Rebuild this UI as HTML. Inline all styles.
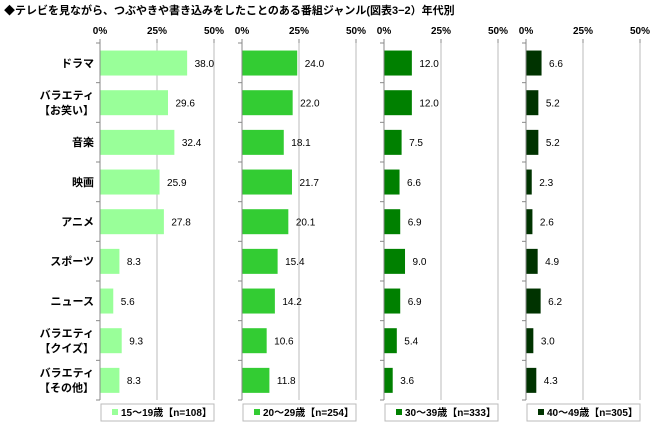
<!DOCTYPE html>
<html><head><meta charset="utf-8"><style>
body{margin:0;background:#fff;font-family:"Liberation Sans","Noto Sans CJK JP",sans-serif;}
svg text{font-family:"Liberation Sans","Noto Sans CJK JP",sans-serif;}
</style></head><body>
<svg id="c" width="659" height="431" xmlns="http://www.w3.org/2000/svg">
<text x="4" y="14" font-size="11" font-weight="bold" fill="#000">◆テレビを見ながら、つぶやきや書き込みをしたことのある番組ジャンル(図表3−2）年代別</text>
</svg>
<script>
const categories=[["ドラマ"],["バラエティ","【お笑い】"],["音楽"],["映画"],["アニメ"],["スポーツ"],["ニュース"],["バラエティ","【クイズ】"],["バラエティ","【その他】"]];
const groups=["15〜19歳【n=108】","20〜29歳【n=254】","30〜39歳【n=333】","40〜49歳【n=305】"];
const s1=[38.0,29.6,32.4,25.9,27.8,8.3,5.6,9.3,8.3];
const s2=[24.0,22.0,18.1,21.7,20.1,15.4,14.2,10.6,11.8];
const s3=[12.0,12.0,7.5,6.6,6.9,9.0,6.9,5.4,3.6];
const s4=[6.6,5.2,5.2,2.3,2.6,4.9,6.2,3.0,4.3];
const series=[s1,s2,s3,s4];
const ticks=[0,25,50];
const colors=["#99ff99","#33cc33","#008000","#003300"];
const x0s=[100,242,384,526], W=114, yTop=43, yBot=400;
const svg=document.getElementById('c');
const NS="http://www.w3.org/2000/svg";
function mk(t,a,p){const e=document.createElementNS(NS,t);for(const k in a)e.setAttribute(k,a[k]);(p||svg).appendChild(e);return e;}
const band=(yBot-yTop)/categories.length;
const yPos=i=>yTop+i*band;
categories.forEach((c,i)=>{
  const cy=yPos(i)+band/2;
  const t=mk('text',{x:94,'text-anchor':'end','font-size':11,'font-weight':'bold'});
  
  
  c.forEach((l,j)=>{const ts=mk('tspan',{x:94,y:cy+4+(j-(c.length-1)/2)*15},t);ts.textContent=l;});
});
series.forEach((vals,g)=>{
  const x0=x0s[g];const xs=v=>x0+v/50*W;
  ticks.forEach(tk=>{
    if(tk>0){const gl=mk('line',{x1:xs(tk),x2:xs(tk),y1:yTop,y2:yBot,stroke:'#bbb','stroke-width':1});
    
    }
    const tl=mk('text',{x:xs(tk),y:34,'text-anchor':'middle','font-size':10,'font-weight':'bold'});
    
    
    tl.textContent=tk+'%';
    mk('line',{x1:xs(tk),x2:xs(tk),y1:yTop-4,y2:yTop,stroke:'#888'});
  });
  mk('line',{x1:x0,x2:x0,y1:yTop-4,y2:yBot,stroke:'#888'});
  for(let i=0;i<=categories.length;i++)mk('line',{x1:x0-4,x2:x0,y1:yPos(i),y2:yPos(i),stroke:'#888'});
  vals.forEach((v,i)=>{
    const b=mk('rect',{x:x0+0.5,y:yPos(i)+band*0.19,width:xs(v)-x0,height:band*0.63,fill:colors[g]});
    
    
    const l=mk('text',{x:xs(v)+8,y:yPos(i)+band/2+4,'font-size':10,fill:'#000'});
    
    
    l.textContent=v.toFixed(1);
  });
  const lg=mk('g',{});
  
  
  mk('rect',{x:x0+1,y:404,width:W-1,height:17,fill:'#fff',stroke:'#bbb'},lg);
  mk('rect',{x:x0+12,y:409,width:6,height:6,fill:colors[g]},lg);
  const lt=mk('text',{x:x0+21,y:416,'font-size':10,'font-weight':'bold'},lg);
  lt.textContent=groups[g];
});
</script>
</body></html>
